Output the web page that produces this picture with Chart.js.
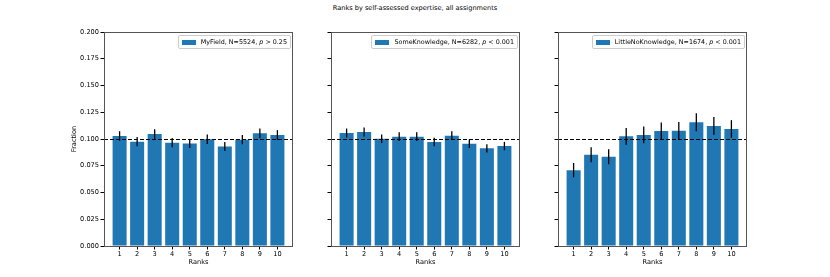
<!DOCTYPE html>
<html>
<head>
<meta charset="utf-8">
<script src="https://cdn.jsdelivr.net/npm/chart.js@4/dist/chart.umd.min.js"></script>
<style>
    body { margin: 0; width: 830px; height: 277px; background: #fff; font-family: "DejaVu Sans", sans-serif; overflow: hidden; }
    .panel { position: absolute; top: 22px; width: 243px; height: 254px; }
    #title { position: absolute; top: 4px; left: 0; width: 830px; text-align: center; font-size: 6.6px; color: #000; }
    .legend { position: absolute; top: 35px; display: flex; align-items: center; font-size: 6.4px; color: #000;
              background: rgba(255,255,255,0.8); border: 1px solid #ccc; border-radius: 2px; padding: 2px 3px 2px 3px; white-space: nowrap; }
    .legend .sw { width: 14px; height: 5px; background: #1f77b4; margin-right: 5px; }
</style>
</head>
<body>
<div id="title">Ranks by self-assessed expertise, all assignments</div>
<div class="panel" style="left:60px"><canvas id="chart0"></canvas></div>
<div class="panel" style="left:287px"><canvas id="chart1"></canvas></div>
<div class="panel" style="left:514px"><canvas id="chart2"></canvas></div>
<div class="legend" style="right:539px"><span class="sw"></span>MyField, N=5524, <i>&nbsp;p</i>&nbsp;&gt; 0.25</div>
<div class="legend" style="right:312px"><span class="sw"></span>SomeKnowledge, N=6282, <i>&nbsp;p</i>&nbsp;&lt; 0.001</div>
<div class="legend" style="right:85px"><span class="sw"></span>LittleNoKnowledge, N=1674, <i>&nbsp;p</i>&nbsp;&lt; 0.001</div>
<script>
const ranks = [1, 2, 3, 4, 5, 6, 7, 8, 9, 10];
const yTicks = [0, 0.025, 0.05, 0.075, 0.1, 0.125, 0.15, 0.175, 0.2];

const myField = [0.1028, 0.0975, 0.1047, 0.0966, 0.0959, 0.0997, 0.0931, 0.0994, 0.1053, 0.1038];
const myFieldErr = [0.0045, 0.0043, 0.0045, 0.0043, 0.0042, 0.0044, 0.0042, 0.0044, 0.0045, 0.0045];

const someKnowledge = [0.1056, 0.1066, 0.1003, 0.1022, 0.1022, 0.0972, 0.1031, 0.0956, 0.0913, 0.0934];
const someKnowledgeErr = [0.0042, 0.0042, 0.0040, 0.0041, 0.0041, 0.0040, 0.0041, 0.0040, 0.0038, 0.0039];

const littleNoKnowledge = [0.0709, 0.0853, 0.0834, 0.1025, 0.1038, 0.1075, 0.1078, 0.1156, 0.1122, 0.1094];
const littleNoKnowledgeErr = [0.0067, 0.0071, 0.0071, 0.0078, 0.0078, 0.0080, 0.0082, 0.0084, 0.0083, 0.0082];

const expected = 0.1;

const FONT = { family: 'DejaVu Sans', size: 6.6 };

// frame, dashed reference line and error bars
const extras = {
    id: 'extras',
    afterDatasetsDraw(chart) {
        const { ctx, chartArea: a, scales: { x, y } } = chart;
        const errs = chart.options.plugins.extras.errs;
        const vals = chart.data.datasets[0].data;
        ctx.save();
        ctx.strokeStyle = '#000';
        ctx.lineWidth = 1.3;
        vals.forEach((p, i) => {
            const px = x.getPixelForValue(p.x);
            ctx.beginPath();
            ctx.moveTo(px, y.getPixelForValue(p.y - errs[i]));
            ctx.lineTo(px, y.getPixelForValue(p.y + errs[i]));
            ctx.stroke();
        });
        ctx.lineWidth = 1;
        ctx.setLineDash([4, 2]);
        const ly = Math.round(y.getPixelForValue(expected)) + 0.5;
        ctx.beginPath();
        ctx.moveTo(a.left, ly);
        ctx.lineTo(a.right, ly);
        ctx.stroke();
        ctx.setLineDash([]);
        ctx.strokeStyle = '#555';
        ctx.lineWidth = 1;
        ctx.strokeRect(a.left + 0.5, a.top + 0.5, a.right - a.left - 1, a.bottom - a.top);
        ctx.restore();
    }
};

function makeChart(id, values, errs, showLabels) {
    const ctx = document.getElementById(id).getContext('2d');
    return new Chart(ctx, {
        type: 'bar',
        data: {
            datasets: [{
                data: ranks.map((r, i) => ({ x: r, y: values[i] })),
                backgroundColor: '#1f77b4',
                borderWidth: 0,
                barPercentage: 0.8,
                categoryPercentage: 1.0
            }]
        },
        options: {
            responsive: true,
            maintainAspectRatio: false,
            animation: false,
            layout: { padding: { top: 10, right: 10, left: 0, bottom: 0 } },
            plugins: {
                legend: { display: false },
                tooltip: { enabled: false },
                extras: { errs: errs }
            },
            scales: {
                x: {
                    type: 'linear',
                    min: 0.11,
                    max: 10.89,
                    offset: false,
                    afterBuildTicks: s => { s.ticks = ranks.map(v => ({ value: v })); },
                    afterFit: s => { s.height = 30; },
                    grid: { display: true, offset: false, drawOnChartArea: false, drawTicks: true, tickLength: 3.5, color: '#000' },
                    border: { display: false },
                    ticks: { font: FONT, color: '#000', padding: 1, maxRotation: 0, autoSkip: false },
                    title: { display: true, text: 'Ranks', font: FONT, color: '#000', padding: { top: 0, bottom: 9.5 } }
                },
                y: {
                    min: 0,
                    max: 0.2,
                    afterBuildTicks: s => { s.ticks = yTicks.map(v => ({ value: v })); },
                    afterFit: s => { s.width = 44; },
                    grid: { display: true, drawOnChartArea: false, drawTicks: true, tickLength: 3.5, color: '#000' },
                    border: { display: false },
                    ticks: {
                        font: FONT, color: '#000', padding: 1.5,
                        callback: v => showLabels ? v.toFixed(3) : ''
                    },
                    title: { display: showLabels, text: 'Fraction', font: FONT, color: '#000', padding: { top: 10.5, bottom: 0 } }
                }
            }
        },
        plugins: [extras]
    });
}

makeChart('chart0', myField, myFieldErr, true);
makeChart('chart1', someKnowledge, someKnowledgeErr, false);
makeChart('chart2', littleNoKnowledge, littleNoKnowledgeErr, false);
</script>
</body>
</html>
